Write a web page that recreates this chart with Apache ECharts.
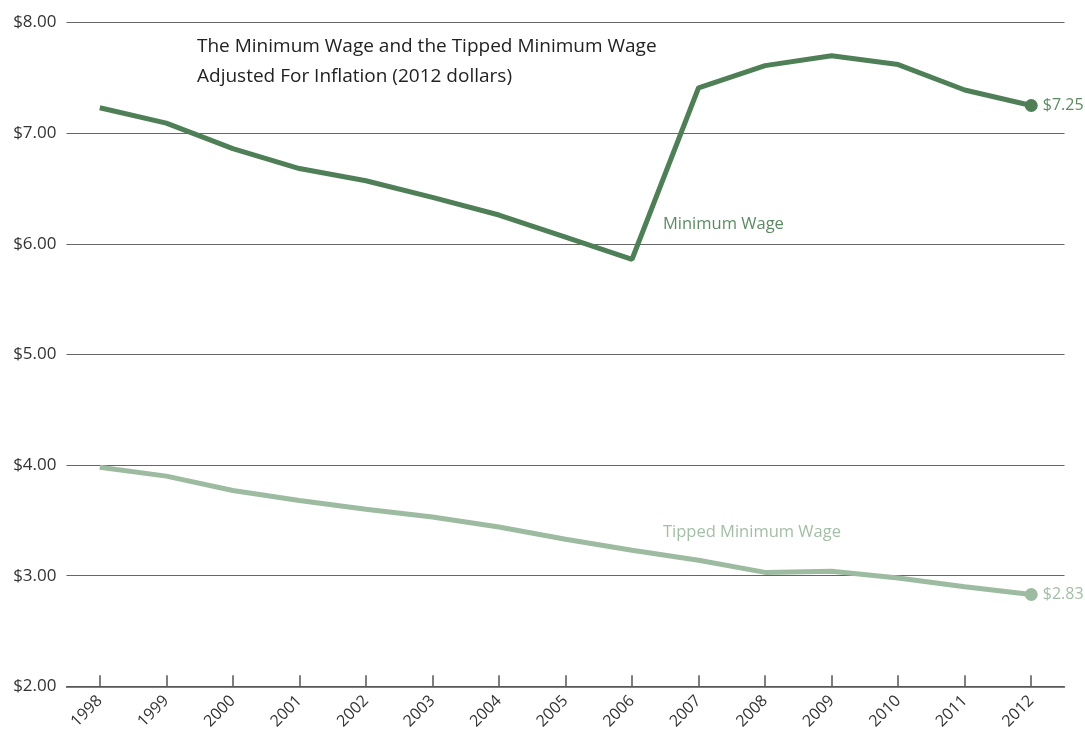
<!DOCTYPE html>
<html>
<head>
<meta charset="utf-8">
<script src="https://cdn.jsdelivr.net/npm/echarts@6/dist/echarts.min.js"></script>
<style>html,body{margin:0;padding:0;background:#fff;}#c{width:1085px;height:732px;}</style>
</head>
<body>
<div id="c"></div>
<script>
const years = ['1998','1999','2000','2001','2002','2003','2004','2005','2006','2007','2008','2009','2010','2011','2012'];
const minimumWage = [7.23,7.09,6.86,6.68,6.57,6.42,6.26,6.06,5.86,7.41,7.61,7.70,7.62,7.39,7.25];
const tippedMinimumWage = [3.98,3.90,3.77,3.68,3.60,3.53,3.44,3.33,3.23,3.14,3.03,3.04,2.98,2.90,2.83];
const yTicks = [2,3,4,5,6,7,8];
const titleLines = ['The Minimum Wage and the Tipped Minimum Wage','Adjusted For Inflation (2012 dollars)'];

const FONT = '"Open Sans", "Noto Sans", sans-serif';
const last = years.length - 1;
function endItem(arr, color){
  return arr.map((v,i)=> i===last ? {value:v, symbol:'circle', symbolSize:13,
    label:{show:true, position:'right', distance:5, formatter:'$'+v.toFixed(2), color:color, fontSize:16, fontFamily:FONT}} : v);
}
const chart = echarts.init(document.getElementById('c'));
chart.setOption({
  animation:false,
  grid:{left:66.5, right:20.5, top:22.5, bottom:43.5, containLabel:false},
  xAxis:{type:'category', data:years, boundaryGap:true,
    axisLine:{lineStyle:{color:'#555', width:1.5}},
    axisTick:{show:true, alignWithLabel:true, inside:true, length:11, lineStyle:{color:'#555', width:1.5}},
    axisLabel:{rotate:45, color:'#333', fontSize:16, fontFamily:FONT, margin:12},
    splitLine:{show:false}},
  yAxis:{type:'value', min:2, max:8, interval:1,
    axisLine:{show:false}, axisTick:{show:false},
    axisLabel:{formatter:v=>'$'+v.toFixed(2), color:'#333', fontSize:17, fontFamily:FONT, margin:10},
    splitLine:{lineStyle:{color:'#666', width:1.2}}},
  graphic:[
    {type:'text', left:197, top:32, style:{text:titleLines.join('\n'), fill:'#222', fontSize:19, lineHeight:30, fontFamily:FONT}},
    {type:'text', left:663, top:216, style:{text:'Minimum Wage', fill:'#5c8a63', fontSize:16.5, fontFamily:FONT}},
    {type:'text', left:663, top:524, style:{text:'Tipped Minimum Wage', fill:'#a3bea6', fontSize:16.5, fontFamily:FONT}}
  ],
  series:[
    {name:'Minimum Wage', type:'line', data:endItem(minimumWage,'#5c8a63'), symbol:'none', showSymbol:true,
      lineStyle:{color:'#4f7f56', width:5}, itemStyle:{color:'#4f7f56'}},
    {name:'Tipped Minimum Wage', type:'line', data:endItem(tippedMinimumWage,'#a3bea6'), symbol:'none', showSymbol:true,
      lineStyle:{color:'#9dbba0', width:5}, itemStyle:{color:'#9dbba0'}}
  ]
});
</script>
</body>
</html>
